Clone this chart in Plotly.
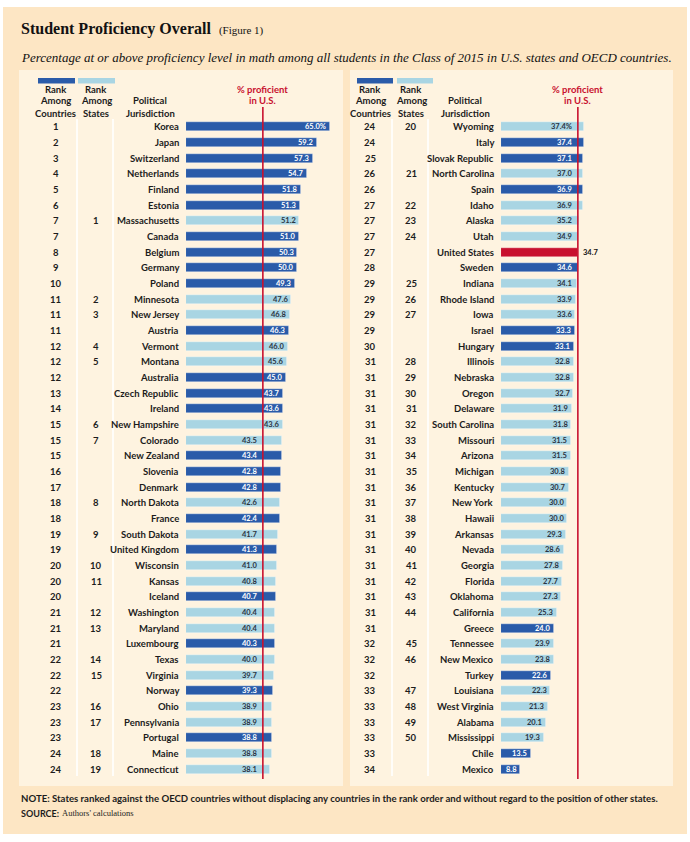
import plotly.graph_objects as go

# ---------------- data ----------------
names_left = ["Korea", "Japan", "Switzerland", "Netherlands", "Finland", "Estonia",
              "Massachusetts", "Canada", "Belgium", "Germany", "Poland", "Minnesota",
              "New Jersey", "Austria", "Vermont", "Montana", "Australia", "Czech Republic",
              "Ireland", "New Hampshire", "Colorado", "New Zealand", "Slovenia", "Denmark",
              "North Dakota", "France", "South Dakota", "United Kingdom", "Wisconsin",
              "Kansas", "Iceland", "Washington", "Maryland", "Luxembourg", "Texas",
              "Virginia", "Norway", "Ohio", "Pennsylvania", "Portugal", "Maine", "Connecticut"]
country_rank_left = ["1", "2", "3", "4", "5", "6", "7", "7", "8", "9", "10", "11", "11", "11",
                     "12", "12", "12", "13", "14", "15", "15", "15", "16", "17", "18", "18",
                     "19", "19", "20", "20", "20", "21", "21", "21", "22", "22", "22", "23",
                     "23", "23", "24", "24"]
state_rank_left = ["", "", "", "", "", "", "1", "", "", "", "", "2", "3", "", "4", "5", "", "",
                   "", "6", "7", "", "", "", "8", "", "9", "", "10", "11", "", "12", "13", "",
                   "14", "15", "", "16", "17", "", "18", "19"]
values_left = [65.0, 59.2, 57.3, 54.7, 51.8, 51.3, 51.2, 51.0, 50.3, 50.0, 49.3, 47.6, 46.8,
               46.3, 46.0, 45.6, 45.0, 43.7, 43.6, 43.6, 43.5, 43.4, 42.8, 42.8, 42.6, 42.4,
               41.7, 41.3, 41.0, 40.8, 40.7, 40.4, 40.4, 40.3, 40.0, 39.7, 39.3, 38.9, 38.9,
               38.8, 38.8, 38.1]

names_right = ["Wyoming", "Italy", "Slovak Republic", "North Carolina", "Spain", "Idaho",
               "Alaska", "Utah", "United States", "Sweden", "Indiana", "Rhode Island", "Iowa",
               "Israel", "Hungary", "Illinois", "Nebraska", "Oregon", "Delaware",
               "South Carolina", "Missouri", "Arizona", "Michigan", "Kentucky", "New York",
               "Hawaii", "Arkansas", "Nevada", "Georgia", "Florida", "Oklahoma", "California",
               "Greece", "Tennessee", "New Mexico", "Turkey", "Louisiana", "West Virginia",
               "Alabama", "Mississippi", "Chile", "Mexico"]
country_rank_right = ["24", "24", "25", "26", "26", "27", "27", "27", "27", "28",
                      "29", "29", "29", "29", "30",
                      "31", "31", "31", "31", "31", "31", "31", "31", "31", "31", "31", "31",
                      "31", "31", "31", "31", "31", "31",
                      "32", "32", "32", "33", "33", "33", "33", "33", "34"]
state_rank_right = ["20", "", "", "21", "", "22", "23", "24", "", "", "25", "26", "27", "", "",
                    "28", "29", "30", "31", "32", "33", "34", "35", "36", "37", "38", "39", "40",
                    "41", "42", "43", "44", "", "45", "46", "", "47", "48", "49", "50", "", ""]
values_right = [37.4, 37.4, 37.1, 37.0, 36.9, 36.9, 35.2, 34.9, 34.7, 34.6, 34.1, 33.9, 33.6,
                33.3, 33.1, 32.8, 32.8, 32.7, 31.9, 31.8, 31.5, 31.5, 30.8, 30.7, 30.0, 30.0,
                29.3, 28.6, 27.8, 27.7, 27.3, 25.3, 24.0, 23.9, 23.8, 22.6, 22.3, 21.3, 20.1,
                19.3, 13.5, 8.8]

US_NAME = "United States"
US_VALUE = values_right[names_right.index(US_NAME)]

title_text = "Student Proficiency Overall"
subtitle_text = ("Percentage at or above proficiency level in math among all students in the "
                 "Class of 2015 in U.S. states and OECD countries.")
note_text = ("NOTE: States ranked against the OECD countries without displacing any countries "
             "in the rank order and without regard to the position of other states.")

# ---------------- style ----------------
W, H = 690, 842


def px(x):
    return x / W


def py(y):
    return 1 - y / H


DARK = "#2a5ba9"
LIGHT = "#a9d5e3"
RED = "#c8102e"
OUTER = "#fde6c4"
PANEL = "#fef3e0"
TXT = "#1c1c1c"
SANS = "Lato, Roboto, sans-serif"
SERIF = "Liberation Serif, DejaVu Serif, serif"
FS = 9.5      # row / header text size
VFS = 7.5     # value label size

PXU = 2.215          # pixels per percentage point
XMAX = 70
ROW_TOP, ROW_BOT = 127.0, 769.3
N = len(names_left)
step = (ROW_BOT - ROW_TOP) / (N - 1)

fig = go.Figure()
ann = []
shapes = []

# outer background and panels
shapes.append(dict(type="rect", xref="paper", yref="paper", x0=px(3), x1=px(687),
                   y0=py(834), y1=py(7), fillcolor=OUTER, line_width=0, layer="below"))

panels = [
    dict(names=names_left, crank=country_rank_left, srank=state_rank_left, vals=values_left,
         xa="x", bar0=186, c_col=56, s_col=96, pol=150, p0=19, p1=343, seps=(77, 113),
         sw=((38, 75, DARK), (78, 115, LIGHT))),
    dict(names=names_right, crank=country_rank_right, srank=state_rank_right, vals=values_right,
         xa="x2", bar0=501, c_col=370, s_col=411, pol=465, p0=350, p1=673, seps=(392, 428),
         sw=((357, 393, DARK), (397, 433, LIGHT))),
]

for k, p in enumerate(panels):
    xa = p["xa"]
    shapes.append(dict(type="rect", xref="paper", yref="paper", x0=px(p["p0"]), x1=px(p["p1"]),
                       y0=py(786), y1=py(70), fillcolor=PANEL, line_width=0, layer="below"))
    for s in p["seps"]:
        shapes.append(dict(type="line", xref="paper", yref="paper", x0=px(s), x1=px(s),
                           y0=py(776), y1=py(119), line=dict(color="white", width=1.6),
                           layer="below"))
    for (a, b, c) in p["sw"]:
        shapes.append(dict(type="rect", xref="paper", yref="paper", x0=px(a), x1=px(b),
                           y0=py(83.5), y1=py(78), fillcolor=c, line_width=0))
    # headers
    hfont = dict(family=SANS, size=FS, color=TXT)
    for col, lines in ((p["c_col"], ["Rank", "Among", "Countries"]),
                       (p["s_col"], ["Rank", "Among", "States"])):
        for j, t in enumerate(lines):
            ann.append(dict(text="<b>%s</b>" % t, xref="paper", yref="paper", x=px(col),
                            y=py(89 + 12 * j), xanchor="center", yanchor="middle",
                            showarrow=False, font=hfont))
    for j, t in enumerate(["Political", "Jurisdiction"]):
        ann.append(dict(text="<b>%s</b>" % t, xref="paper", yref="paper", x=px(p["pol"]),
                        y=py(101 + 12 * j), xanchor="center", yanchor="middle",
                        showarrow=False, font=hfont))
    redx = p["bar0"] + US_VALUE * PXU
    for j, t in enumerate(["% proficient", "in U.S."]):
        ann.append(dict(text="<b>%s</b>" % t, xref="paper", yref="paper", x=px(redx),
                        y=py(89 + 12 * j), xanchor="center", yanchor="middle",
                        showarrow=False, font=dict(family=SANS, size=FS, color=RED)))

    colors = []
    for name, sr in zip(p["names"], p["srank"]):
        if name == US_NAME:
            colors.append(RED)
        elif sr:
            colors.append(LIGHT)
        else:
            colors.append(DARK)
    rows = list(range(len(p["names"])))
    fig.add_trace(go.Bar(x=p["vals"], y=rows, orientation="h", width=0.58,
                         marker=dict(color=colors,
                                     line=dict(width=0.8, color="rgba(255,255,255,0.45)")),
                         xaxis=xa, yaxis="y", hoverinfo="skip", showlegend=False))

    # red reference line
    shapes.append(dict(type="line", xref=xa, yref="paper", x0=US_VALUE, x1=US_VALUE,
                       y0=py(779), y1=py(107), line=dict(color=RED, width=1.6)))

    rfont = dict(family=SANS, size=FS, color=TXT)
    for i, (name, cr, sr, v, c) in enumerate(zip(p["names"], p["crank"], p["srank"],
                                                 p["vals"], colors)):
        ann.append(dict(text="<b>%s</b>" % cr, xref="paper", yref="y", x=px(p["c_col"]), y=i,
                        xanchor="center", showarrow=False, font=rfont))
        if sr:
            ann.append(dict(text="<b>%s</b>" % sr, xref="paper", yref="y", x=px(p["s_col"]),
                            y=i, xanchor="center", showarrow=False, font=rfont))
        ann.append(dict(text="<b>%s</b>" % name, xref=xa, yref="y", x=0, y=i, xanchor="right",
                        xshift=-5, showarrow=False, font=rfont))
        lab = "%.1f" % v + ("%" if i == 0 else "")
        if name == US_NAME:
            ann.append(dict(text="<b>%s</b>" % lab, xref=xa, yref="y", x=v, y=i,
                            xanchor="left", xshift=3, showarrow=False,
                            font=dict(family=SANS, size=VFS, color="#111111")))
            continue
        if v - US_VALUE >= 8.85:
            lx = v - 1.3
        else:
            lx = min(v - 1.3, US_VALUE - 2.1)
        ann.append(dict(text="<b>%s</b>" % lab, xref=xa, yref="y", x=lx, y=i, xanchor="right",
                        showarrow=False, borderpad=0,
                        font=dict(family=SANS, size=VFS,
                                  color="white" if c == DARK else "#2b3442")))

# title, subtitle, notes
ann.append(dict(text="<b>%s</b>  <span style='font-size:11px'>(Figure 1)</span>" % title_text,
                xref="paper", yref="paper", x=px(19), y=py(29), xanchor="left",
                yanchor="middle", showarrow=False,
                font=dict(family=SERIF, size=16, color="#111111")))
ann.append(dict(text="<i>%s</i>" % subtitle_text, xref="paper", yref="paper", x=px(19),
                y=py(57), xanchor="left", yanchor="middle", showarrow=False,
                font=dict(family=SERIF, size=13, color="#111111")))
ann.append(dict(text="<b>%s</b>" % note_text, xref="paper", yref="paper", x=px(19), y=py(798),
                xanchor="left", yanchor="middle", showarrow=False,
                font=dict(family=SANS, size=9.6, color=TXT)))
ann.append(dict(text="<b>SOURCE:</b>", xref="paper", yref="paper", x=px(19), y=py(813),
                xanchor="left", yanchor="middle", showarrow=False,
                font=dict(family=SANS, size=9, color=TXT)))
ann.append(dict(text="Authors' calculations", xref="paper", yref="paper", x=px(60), y=py(813),
                xanchor="left", yanchor="middle", showarrow=False,
                font=dict(family=SERIF, size=8.5, color=TXT)))

hidden = dict(visible=False, showgrid=False, zeroline=False, fixedrange=True)
fig.update_layout(
    width=W, height=H, margin=dict(l=0, r=0, t=0, b=0),
    paper_bgcolor="white", plot_bgcolor="rgba(0,0,0,0)",
    xaxis=dict(hidden, domain=[px(186), px(186 + XMAX * PXU)], range=[0, XMAX], anchor="y"),
    xaxis2=dict(hidden, domain=[px(501), px(501 + XMAX * PXU)], range=[0, XMAX], anchor="y"),
    yaxis=dict(hidden, domain=[py(ROW_BOT + step / 2), py(ROW_TOP - step / 2)],
               range=[N - 0.5, -0.5]),
    shapes=shapes, annotations=ann, bargap=0,
)

fig.write_html("out.html")
